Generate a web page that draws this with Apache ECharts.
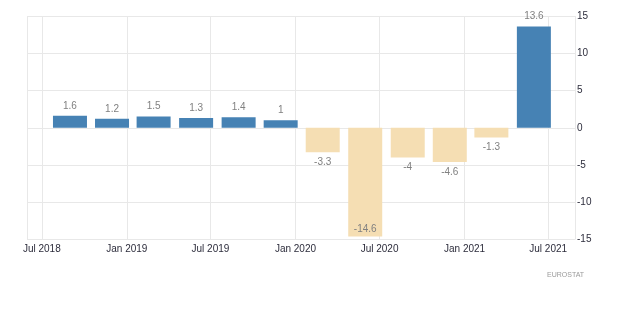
<!DOCTYPE html>
<html>
<head>
<meta charset="utf-8">
<script src="https://cdn.jsdelivr.net/npm/echarts@6/dist/echarts.min.js"></script>
<style>
  html, body { margin: 0; padding: 0; background: #ffffff; }
  #chart { width: 620px; height: 325px; }
</style>
</head>
<body>
<div id="chart"></div>
<script>
// Quarterly GDP growth rate (%, quarter on quarter)
const periods = [
  '2018-08-31', '2018-11-30', '2019-02-28', '2019-05-31',
  '2019-08-31', '2019-11-30', '2020-02-29', '2020-05-31',
  '2020-08-31', '2020-11-30', '2021-02-28', '2021-05-31'
];
const growth = [1.6, 1.2, 1.5, 1.3, 1.4, 1, -3.3, -14.6, -4, -4.6, -1.3, 13.6];
const yTicks = { min: -15, max: 15, step: 5 };
const xRange = { start: '2018-05-30', end: '2021-08-28' };
const sourceText = 'EUROSTAT';

const months = ['Jan','Feb','Mar','Apr','May','Jun','Jul','Aug','Sep','Oct','Nov','Dec'];
const POS = '#4682b4';
const NEG = '#f5deb3';
const BAR_W = 34;
const GRID = { left: 27, right: 45, top: 16, bottom: 85.5 };
const CHART_W = 620;
const DAY = 24 * 3600 * 1000;

// A bar series widens its time axis by half a bar on each side;
// narrow the requested span so the visible span stays xRange.
const plotW = CHART_W - GRID.left - GRID.right;
const t0 = Date.parse(xRange.start), t1 = Date.parse(xRange.end);
const keep = 1 - BAR_W / plotW;
const mid = (t0 + t1) / 2, half = (t1 - t0) / 2 * keep;

const seriesData = periods.map((d, i) => {
  const v = growth[i];
  let pos = v >= 0 ? 'top' : 'bottom';
  if (v < yTicks.min + 1.5) pos = 'insideBottom';
  return {
    value: [d, v],
    itemStyle: { color: v >= 0 ? POS : NEG },
    label: { position: pos, distance: pos === 'insideBottom' ? 2 : 5 }
  };
});

const textColor = '#2d2d3c';
const chart = echarts.init(document.getElementById('chart'), null, { renderer: 'canvas' });
chart.setOption({
  animation: false,
  backgroundColor: '#ffffff',
  grid: Object.assign({ containLabel: false }, GRID),
  xAxis: {
    type: 'time',
    min: mid - half,
    max: mid + half,
    splitNumber: 5,
    minInterval: 180 * DAY,
    axisLine: { show: false },
    axisTick: { show: false },
    splitLine: { show: true, lineStyle: { color: '#e8e8e8', width: 1 } },
    axisLabel: {
      showMinLabel: false,
      showMaxLabel: false,
      margin: 5,
      color: textColor,
      fontFamily: 'Liberation Sans, Arial, sans-serif',
      fontSize: 10,
      formatter: function (val) {
        const d = new Date(val);
        return months[d.getMonth()] + ' ' + d.getFullYear();
      }
    }
  },
  yAxis: {
    type: 'value',
    position: 'right',
    min: yTicks.min,
    max: yTicks.max,
    interval: yTicks.step,
    axisLine: { show: false },
    axisTick: { show: false },
    splitLine: { show: true, lineStyle: { color: '#e8e8e8', width: 1 } },
    axisLabel: {
      margin: 2,
      color: textColor,
      fontFamily: 'Liberation Sans, Arial, sans-serif',
      fontSize: 10
    }
  },
  series: [{
    type: 'bar',
    barWidth: BAR_W,
    data: seriesData,
    label: {
      show: true,
      color: '#808080',
      fontFamily: 'Liberation Sans, Arial, sans-serif',
      fontSize: 10,
      formatter: p => String(p.value[1])
    }
  }],
  graphic: [{
    type: 'text',
    left: 547,
    top: 272,
    style: {
      text: sourceText,
      fill: '#9a9a9a',
      font: '7px "Liberation Sans", Arial, sans-serif'
    }
  }]
});
</script>
</body>
</html>
